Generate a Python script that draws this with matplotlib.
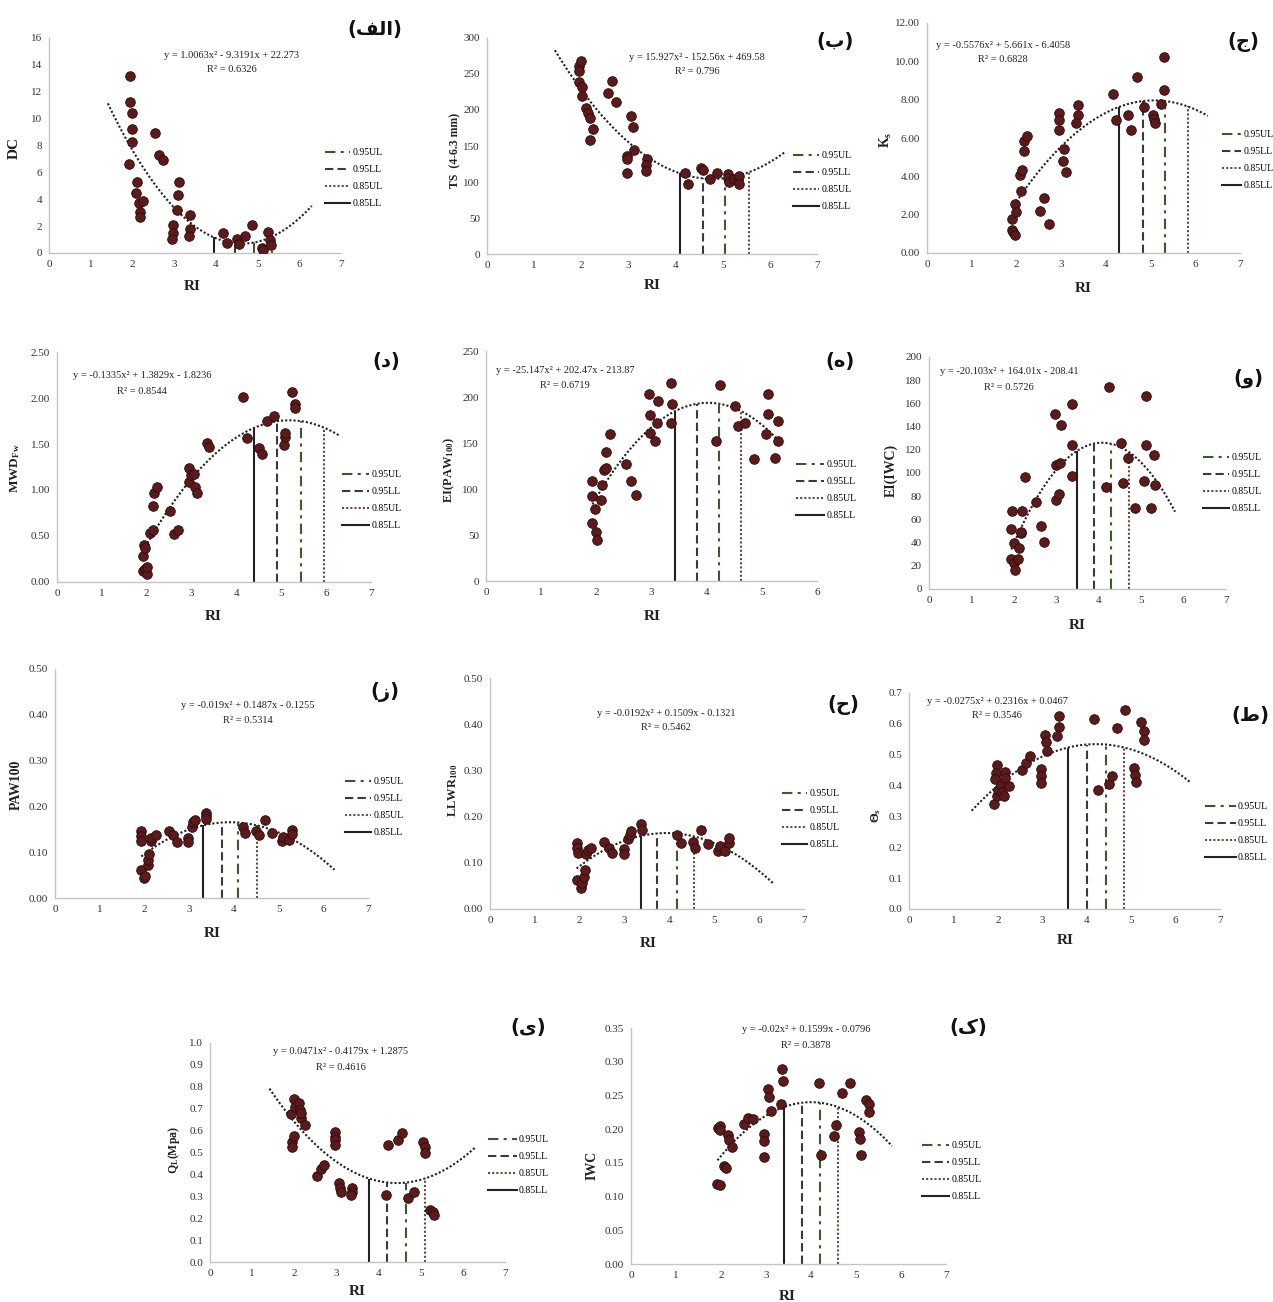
import matplotlib
matplotlib.use("Agg")
import matplotlib.pyplot as plt
import numpy as np
from matplotlib.lines import Line2D

plt.rcParams['font.family'] = ['Liberation Serif', 'DejaVu Sans']
plt.rcParams['mathtext.default'] = 'regular'

# ---------------- data ----------------
# (الف) DC
ri_dc = [1.94, 1.94, 1.98, 2.0, 2.0, 1.92, 2.10, 2.08, 2.16, 2.17, 2.17, 2.25, 2.53, 2.64, 2.73, 3.12, 3.09, 3.06,
         2.98, 2.97, 2.96, 3.39, 3.37, 3.35, 4.18, 4.26, 4.51, 4.56, 4.70, 4.86, 5.10, 5.14, 5.25, 5.30, 5.32]
dc = [13.2, 11.2, 10.4, 9.25, 8.26, 6.6, 5.3, 4.5, 3.7, 3.05, 2.7, 3.9, 8.9, 7.3, 6.9, 5.3, 4.35, 3.2,
      2.05, 1.5, 1.07, 2.85, 1.76, 1.3, 1.5, 0.77, 1.04, 0.7, 1.3, 2.08, 0.37, 0.2, 1.56, 0.99, 0.62]
# (ب) TS
ri_ts = [1.95, 1.96, 2.0, 1.95, 2.02, 2.02, 2.11, 2.14, 2.18, 2.25, 2.18, 2.56, 2.65, 2.74, 3.06, 3.10, 3.12, 2.98,
         2.98, 2.98, 3.39, 3.38, 3.37, 4.19, 4.27, 4.54, 4.59, 4.72, 4.88, 5.11, 5.12, 5.14, 5.23, 5.32, 5.34, 5.34]
ts = [260.5, 253.6, 267.5, 239, 232, 220, 203, 196, 189, 174, 158, 223, 240.6, 211, 191, 176, 144, 136,
      132.6, 112, 131.7, 124, 115, 112, 97, 119, 117, 104, 113, 111, 105, 100.6, 104, 103, 108, 97]
# (ج) Ks
ri_ks = [1.91, 1.91, 1.93, 1.97, 1.97, 1.99, 2.11, 2.09, 2.12, 2.16, 2.16, 2.24, 2.52, 2.61, 2.72, 2.96, 2.96, 2.96,
         3.07, 3.05, 3.11, 3.37, 3.38, 3.34, 4.17, 4.23, 4.50, 4.56, 4.69, 4.85, 5.06, 5.08, 5.09, 5.23, 5.31, 5.31]
ks = [1.79, 1.22, 1.10, 0.92, 2.57, 2.14, 3.23, 4.09, 4.31, 5.30, 5.83, 6.09, 2.19, 2.89, 1.50, 7.32, 6.92, 6.40,
      5.43, 4.78, 4.23, 7.74, 7.18, 6.80, 8.30, 6.92, 7.18, 6.40, 9.17, 7.62, 7.18, 7.0, 6.78, 7.79, 10.23, 8.49]
# (د) MWD
ri_mwd = [1.92, 1.94, 1.96, 1.92, 1.97, 2.0, 2.0, 2.08, 2.13, 2.14, 2.16, 2.23, 2.53, 2.61, 2.70, 2.95, 2.95, 2.98,
          3.05, 3.08, 3.11, 3.35, 3.39, 4.15, 4.23, 4.50, 4.56, 4.68, 4.84, 5.07, 5.09, 5.09, 5.23, 5.30, 5.30]
mwd = [0.28, 0.40, 0.37, 0.12, 0.145, 0.09, 0.16, 0.53, 0.57, 0.83, 0.97, 1.03, 0.77, 0.52, 0.57, 1.24, 1.09, 1.16,
       1.17, 1.03, 0.97, 1.51, 1.47, 2.01, 1.57, 1.46, 1.39, 1.75, 1.80, 1.49, 1.58, 1.62, 2.07, 1.93, 1.89]
# (ه) EI(PAW100)
ri_eip = [1.93, 1.92, 1.97, 1.93, 1.99, 2.01, 2.10, 2.09, 2.14, 2.17, 2.17, 2.25, 2.54, 2.63, 2.72, 2.96, 2.97, 2.97,
          3.07, 3.10, 3.12, 3.36, 3.37, 3.36, 4.17, 4.24, 4.51, 4.56, 4.70, 4.85, 5.08, 5.11, 5.11, 5.24, 5.30, 5.30]
eip = [108.7, 92.4, 78.6, 63, 53, 45, 104, 88.4, 121, 122.5, 140, 160, 127.5, 108.7, 93, 203.6, 180.8, 160.9,
       152, 171.7, 195.3, 215.2, 192, 171.7, 152, 213.4, 190, 169, 171.7, 133, 160, 203.6, 181, 134, 173.5, 152]
# (و) EI(IWC)
ri_eiw = [1.94, 1.94, 1.96, 2.0, 2.01, 2.02, 2.10, 2.12, 2.16, 2.19, 2.18, 2.26, 2.53, 2.65, 2.72, 2.97, 2.99, 2.99,
          3.08, 3.07, 3.12, 3.36, 3.38, 3.37, 4.25, 4.17, 4.52, 4.58, 4.70, 4.85, 5.07, 5.11, 5.11, 5.23, 5.31, 5.32]
eiw = [26.2, 51.5, 67.3, 39.4, 22.2, 16.4, 26.2, 35.1, 48.1, 67.3, 49.5, 96.4, 75.4, 54.4, 40.9, 151, 107, 76.3,
       108.5, 82, 141.6, 159.7, 124.3, 97, 173.8, 87.8, 125.8, 91.8, 112.8, 69.6, 92.7, 166, 124.3, 69.6, 115.7, 89.8]
# (ز) PAW100
ri_paw = [1.93, 1.93, 1.93, 1.93, 2.0, 2.01, 2.07, 2.09, 2.10, 2.15, 2.15, 2.25, 2.55, 2.63, 2.73, 2.97, 2.97,
          3.07, 3.08, 3.12, 3.37, 3.37, 3.37, 4.20, 4.25, 4.50, 4.56, 4.70, 4.86, 5.07, 5.11, 5.23, 5.30, 5.30]
paw = [0.146, 0.135, 0.124, 0.062, 0.044, 0.049, 0.073, 0.084, 0.095, 0.124, 0.131, 0.138, 0.147, 0.138, 0.122,
       0.131, 0.122, 0.156, 0.167, 0.171, 0.186, 0.178, 0.172, 0.156, 0.143, 0.146, 0.138, 0.171, 0.142, 0.125,
       0.134, 0.127, 0.149, 0.140]
# (ح) LLWR100
ri_llwr = [1.93, 1.93, 1.97, 1.93, 2.02, 2.04, 2.09, 2.12, 2.15, 2.19, 2.26, 2.55, 2.66, 2.73, 2.98, 2.98, 3.08,
           3.12, 3.14, 3.36, 3.38, 4.16, 4.25, 4.53, 4.58, 4.71, 4.86, 5.09, 5.12, 5.24, 5.33, 5.33]
llwr = [0.143, 0.132, 0.121, 0.063, 0.045, 0.056, 0.069, 0.085, 0.118, 0.128, 0.132, 0.145, 0.132, 0.121, 0.13,
        0.12, 0.152, 0.161, 0.168, 0.183, 0.172, 0.161, 0.143, 0.144, 0.133, 0.170, 0.141, 0.125, 0.136, 0.126,
        0.143, 0.154]
# (ط) theta_s
ri_ths = [1.97, 1.95, 1.93, 1.92, 1.98, 2.0, 2.06, 2.10, 2.13, 2.17, 2.17, 2.25, 2.55, 2.63, 2.73, 2.96, 2.96, 2.96,
          3.06, 3.08, 3.11, 3.37, 3.38, 3.34, 4.17, 4.25, 4.51, 4.57, 4.69, 4.86, 5.06, 5.09, 5.11, 5.22, 5.30, 5.30]
ths = [0.466, 0.441, 0.421, 0.341, 0.365, 0.387, 0.403, 0.378, 0.365, 0.444, 0.425, 0.40, 0.452, 0.473, 0.497,
       0.455, 0.432, 0.408, 0.565, 0.54, 0.511, 0.624, 0.59, 0.562, 0.616, 0.385, 0.406, 0.43, 0.587, 0.646,
       0.457, 0.435, 0.411, 0.605, 0.578, 0.549]
# (ی) QL
ri_ql = [1.92, 1.94, 1.94, 1.99, 1.99, 2.02, 2.10, 2.14, 2.15, 2.25, 2.16, 2.53, 2.63, 2.71, 2.97, 2.97, 2.97, 2.97,
         3.07, 3.09, 3.11, 3.36, 3.36, 3.35, 4.17, 4.23, 4.47, 4.55, 4.71, 4.85, 5.06, 5.09, 5.10, 5.22, 5.28, 5.32]
ql = [0.676, 0.55, 0.527, 0.577, 0.745, 0.71, 0.725, 0.695, 0.656, 0.626, 0.68, 0.392, 0.423, 0.443, 0.595, 0.573,
      0.557, 0.534, 0.362, 0.34, 0.32, 0.336, 0.318, 0.305, 0.305, 0.534, 0.557, 0.59, 0.29, 0.32, 0.55, 0.527,
      0.496, 0.237, 0.229, 0.214]
# (ک) IWC
ri_iwc = [1.91, 1.98, 1.93, 1.97, 1.97, 2.07, 2.11, 2.15, 2.17, 2.24, 2.52, 2.61, 2.70, 2.95, 2.95, 2.95, 3.04,
          3.07, 3.11, 3.35, 3.37, 3.33, 4.17, 4.23, 4.52, 4.55, 4.69, 4.86, 5.07, 5.09, 5.11, 5.23, 5.28, 5.29]
iwc = [0.118, 0.117, 0.201, 0.204, 0.198, 0.146, 0.142, 0.191, 0.184, 0.174, 0.208, 0.216, 0.215, 0.193, 0.183,
       0.158, 0.259, 0.248, 0.227, 0.289, 0.272, 0.238, 0.268, 0.161, 0.190, 0.206, 0.254, 0.269, 0.196, 0.186,
       0.161, 0.243, 0.238, 0.225]

# quadratic trend coefficients (a, b, c) and R^2
coef_list = [(1.0063, -9.3191, 22.273), (15.927, -152.56, 469.58), (-0.5576, 5.661, -6.4058),
             (-0.1335, 1.3829, -1.8236), (-25.147, 202.47, -213.87), (-20.103, 164.01, -208.41),
             (-0.019, 0.1487, -0.1255), (-0.0192, 0.1509, -0.1321), (-0.0275, 0.2316, 0.0467),
             (0.0471, -0.4179, 1.2875), (-0.02, 0.1599, -0.0796)]
eq_labels = ["y = 1.0063x\u00b2 - 9.3191x + 22.273", "y = 15.927x\u00b2 - 152.56x + 469.58",
             "y = -0.5576x\u00b2 + 5.661x - 6.4058", "y = -0.1335x\u00b2 + 1.3829x - 1.8236",
             "y = -25.147x\u00b2 + 202.47x - 213.87", "y = -20.103x\u00b2 + 164.01x - 208.41",
             "y = -0.019x\u00b2 + 0.1487x - 0.1255", "y = -0.0192x\u00b2 + 0.1509x - 0.1321",
             "y = -0.0275x\u00b2 + 0.2316x + 0.0467", "y = 0.0471x\u00b2 - 0.4179x + 1.2875",
             "y = -0.02x\u00b2 + 0.1599x - 0.0796"]
r2_labels = ["R\u00b2 = 0.6326", "R\u00b2 = 0.796", "R\u00b2 = 0.6828", "R\u00b2 = 0.8544", "R\u00b2 = 0.6719",
             "R\u00b2 = 0.5726", "R\u00b2 = 0.5314", "R\u00b2 = 0.5462", "R\u00b2 = 0.3546", "R\u00b2 = 0.4616",
             "R\u00b2 = 0.3878"]
# trend line RI range
trend_range = [(1.41, 6.30), (1.44, 6.31), (2.0, 6.28), (1.97, 6.31), (1.93, 5.30), (1.94, 5.80),
               (1.93, 6.25), (1.93, 6.31), (1.41, 6.33), (1.41, 6.29), (1.92, 5.80)]
# limits: 0.95UL, 0.95LL, 0.85UL, 0.85LL
limit_labels = ["0.95UL", "0.95LL", "0.85UL", "0.85LL"]
ul95 = [4.92, 5.05, 5.32, 5.44, 4.23, 4.30, 4.10, 4.16, 4.43, 4.65, 4.20]
ll95 = [4.45, 4.58, 4.82, 4.90, 3.82, 3.89, 3.73, 3.73, 4.00, 4.21, 3.80]
ul85 = [5.34, 5.55, 5.83, 5.96, 4.63, 4.71, 4.51, 4.54, 4.85, 5.10, 4.60]
ll85 = [3.95, 4.10, 4.30, 4.40, 3.43, 3.49, 3.32, 3.36, 3.58, 3.78, 3.40]

y_labels = ["DC", "TS  (4-6.3 mm)", "K$_s$", "MWD$_{Fw}$", "EI(PAW$_{100}$)", "EI(IWC)", "PAW100",
            "LLWR$_{100}$", "\u0398$_s$", "Q$_L$(Mpa)", "IWC"]
x_label = "RI"
tags = ["(\ufed2\ufedf\ufe8d)", "(\u0628)", "(\u062c)", "(\u062f)", "(\u0647)", "(\u0648)", "(\u0632)",
        "(\u062d)", "(\u0637)", "(\u06cc)", "(\u06a9)"]
yticks_list = [np.arange(0, 16.1, 2), np.arange(0, 301, 50), np.arange(0, 12.1, 2), np.arange(0, 2.51, 0.5),
               np.arange(0, 251, 50), np.arange(0, 201, 20), np.arange(0, 0.501, 0.1), np.arange(0, 0.501, 0.1),
               np.arange(0, 0.701, 0.1), np.arange(0, 1.001, 0.1), np.arange(0, 0.3501, 0.05)]
ytick_fmt = ["{:.0f}", "{:.0f}", "{:.2f}", "{:.2f}", "{:.0f}", "{:.0f}", "{:.2f}", "{:.2f}", "{:.1f}", "{:.1f}",
             "{:.2f}"]
x_max = [7, 7, 7, 7, 6, 7, 7, 7, 7, 7, 7]

xs_all = [ri_dc, ri_ts, ri_ks, ri_mwd, ri_eip, ri_eiw, ri_paw, ri_llwr, ri_ths, ri_ql, ri_iwc]
ys_all = [dc, ts, ks, mwd, eip, eiw, paw, llwr, ths, ql, iwc]

# ---------------- layout (pixels) ----------------
W, H = 1273, 1302
ax_px = [(49, 38, 341, 253), (487, 38, 817, 254), (927, 23, 1240, 253),
         (57, 352, 371, 582), (486, 351, 817, 581), (929, 357, 1226, 589),
         (55, 669, 368, 898), (490, 678, 804, 909), (909, 693, 1220, 909),
         (210, 1043, 505, 1262), (631, 1028, 946, 1264)]
ylab_px = [(15, 148), (455, 150), (888, 140), (16, 468), (451, 470), (892, 470), (17, 785), (454, 790),
           (877, 815), (176, 1150), (593, 1165)]
ylab_size = [11, 8.5, 10, 9.5, 9, 10, 10, 9, 9, 8.5, 10]
xlab_px = [(192, 288), (652, 287), (1083, 290), (213, 618), (652, 618), (1077, 627), (212, 935), (648, 945),
           (1065, 942), (357, 1293), (787, 1298)]
eq_px = [(232, 55), (697, 57), (1003, 45), (142, 376), (565, 370), (1009, 372), (248, 705), (666, 713),
         (997, 701), (341, 1052), (806, 1030)]
leg_px = [(325, 148), (793, 151), (1222, 130), (342, 470), (796, 460), (1203, 453), (345, 777), (782, 789),
          (1205, 802), (488, 1135), (922, 1141)]
leg_handle = [2.6, 2.7, 2.0, 2.8, 2.9, 2.7, 2.7, 2.6, 3.2, 3.0, 2.8]
tag_px = [(375, 30), (835, 42), (1243, 42), (386, 362), (840, 362), (1248, 378), (385, 692), (843, 705),
          (1250, 715), (528, 1028), (968, 1028)]

fig = plt.figure(figsize=(W / 100, H / 100), dpi=100)
fig.patch.set_facecolor("white")

styles = [dict(color="#3b5a2a", ls=(0, (5, 2.5, 1.5, 2.5))),
          dict(color="#3a3a3a", ls=(0, (4, 2))),
          dict(color="#6a4a3a", ls=(0, (1, 1))),
          dict(color="#222222", ls="-")]
limit_vals = [ul95, ll95, ul85, ll85]

for i in range(11):
    l, t, r, b = ax_px[i]
    ax = fig.add_axes([l / W, 1 - b / H, (r - l) / W, (b - t) / H])
    yt = yticks_list[i]
    ax.set_xlim(0, x_max[i])
    ax.set_ylim(0, yt[-1])
    ax.set_xticks(range(0, x_max[i] + 1))
    ax.set_yticks(yt)
    ax.set_yticklabels([ytick_fmt[i].format(v) for v in yt])
    for s in ("top", "right"):
        ax.spines[s].set_visible(False)
    for s in ("left", "bottom"):
        ax.spines[s].set_color("#c4c4c4")
        ax.spines[s].set_linewidth(1.0)
    ax.tick_params(length=0, labelsize=8, pad=5, labelcolor="#333333")
    ax.patch.set_alpha(0)

    a, bb, c = coef_list[i]
    xx = np.linspace(trend_range[i][0], trend_range[i][1], 200)
    ax.plot(xx, np.polyval([a, bb, c], xx), color="#222222", lw=1.5, ls=(0, (1, 1)), zorder=2)

    for k in range(4):
        xv = limit_vals[k][i]
        ax.vlines(xv, 0, np.polyval([a, bb, c], xv), lw=1.5, zorder=2, colors=styles[k]["color"],
                  linestyles=[styles[k]["ls"]])

    ax.scatter(xs_all[i], ys_all[i], s=48, c="#5c1a1a", edgecolors="#2b0b0b", linewidths=0.6, zorder=3)

    # axis labels
    ax.set_ylabel(y_labels[i], fontsize=ylab_size[i], fontweight="bold", color="#222222")
    yx, yy = ylab_px[i]
    ax.yaxis.set_label_coords((yx + 6 - l) / (r - l), (b - yy) / (b - t))
    ax.set_xlabel(x_label, fontsize=11, fontweight="bold", color="#222222")
    xx_, xy_ = xlab_px[i]
    ax.xaxis.set_label_coords((xx_ - l) / (r - l), (b - (xy_ - 8)) / (b - t))

    # equation
    ex, ey = eq_px[i]
    fig.text(ex / W, 1 - ey / H, eq_labels[i], ha="center", va="center", fontsize=7.5, color="#222222")
    fig.text(ex / W, 1 - (ey + 15) / H, r2_labels[i], ha="center", va="center", fontsize=7.5, color="#222222")

    # legend
    handles = [Line2D([], [], color=styles[k]["color"], ls=styles[k]["ls"], lw=1.5) for k in range(4)]
    lx, ly = leg_px[i]
    ax.legend(handles, limit_labels, loc="upper left", bbox_to_anchor=(lx / W, 1 - ly / H),
              bbox_transform=fig.transFigure, frameon=False, fontsize=7, handlelength=leg_handle[i],
              handletextpad=0.2, labelspacing=0.82, borderpad=0, borderaxespad=0)

    # panel tag
    tx, ty = tag_px[i]
    fig.text(tx / W, 1 - ty / H, tags[i], ha="center", va="center", fontsize=14, fontweight="bold",
             family=["DejaVu Sans"], color="#111111")

fig.savefig("out.png", dpi=100, facecolor="white")
